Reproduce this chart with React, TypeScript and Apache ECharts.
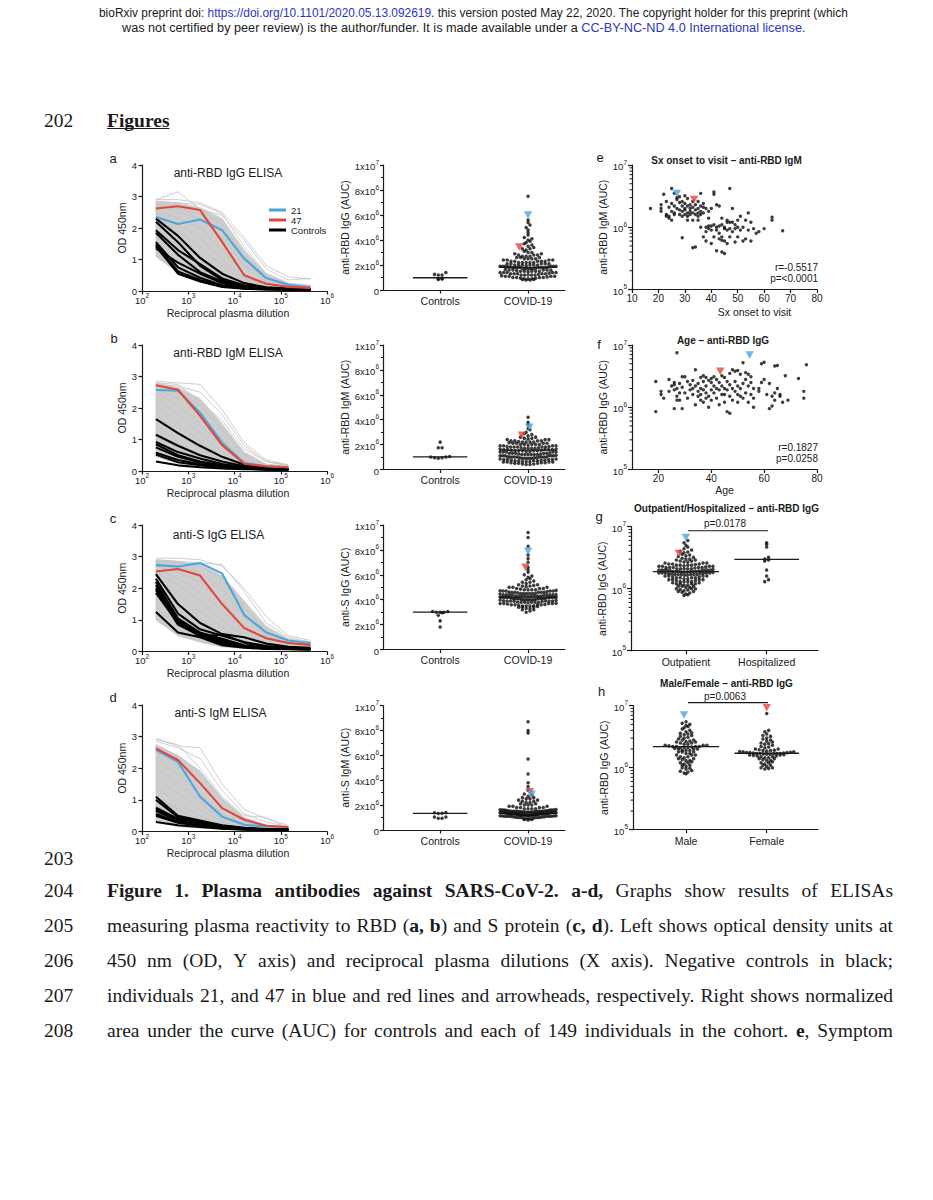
import React, { useEffect, useRef } from 'react';
import * as echarts from 'echarts';

// ================= DATA =================
const DILUTIONS = [200, 600, 1800, 5400, 16200, 48600, 145800, 437400];

// ---- left panels: OD450 per dilution ----
const A_BLUE = [2.35, 2.13, 2.27, 1.93, 1.03, 0.41, 0.2, 0.12];
const A_RED = [2.62, 2.69, 2.57, 1.56, 0.5, 0.23, 0.13, 0.1];
const A_CTRL = [
  [2.3, 1.75, 1.05, 0.55, 0.25, 0.12, 0.08, 0.06],
  [2.2, 1.55, 0.8, 0.35, 0.15, 0.08, 0.06, 0.05],
  [1.93, 1.3, 0.85, 0.4, 0.18, 0.1, 0.07, 0.05],
  [1.85, 1.15, 0.6, 0.3, 0.12, 0.07, 0.05, 0.05],
  [1.55, 0.75, 0.42, 0.18, 0.09, 0.06, 0.05, 0.04],
  [1.48, 0.62, 0.35, 0.15, 0.08, 0.06, 0.05, 0.04],
  [1.42, 0.55, 0.3, 0.13, 0.07, 0.05, 0.04, 0.04],
  [1.35, 0.9, 0.55, 0.25, 0.11, 0.07, 0.05, 0.04],
];
const A_GREY = [
  [2.9, 3.15, 2.6, 2.4, 1.6, 0.7, 0.35, 0.4],
  [2.85, 2.8, 2.75, 2.45, 1.4, 0.55, 0.25, 0.15],
  [2.8, 2.7, 2.6, 2.1, 1.1, 0.45, 0.2, 0.12],
  [2.7, 2.5, 2.3, 1.7, 0.8, 0.3, 0.15, 0.1],
  [2.6, 2.3, 2.0, 1.3, 0.55, 0.2, 0.1, 0.08],
  [2.5, 2.1, 1.7, 1.0, 0.4, 0.15, 0.09, 0.07],
  [2.4, 1.9, 1.4, 0.8, 0.3, 0.12, 0.08, 0.06],
  [2.2, 1.6, 1.1, 0.6, 0.22, 0.1, 0.07, 0.06],
  [2.0, 1.4, 0.9, 0.45, 0.18, 0.09, 0.06, 0.05],
  [1.8, 1.1, 0.7, 0.35, 0.14, 0.08, 0.06, 0.05],
  [1.6, 0.9, 0.5, 0.25, 0.1, 0.07, 0.05, 0.05],
  [1.1, 0.6, 0.35, 0.15, 0.08, 0.06, 0.05, 0.05],
  [2.9, 2.9, 2.8, 2.5, 1.7, 0.8, 0.45, 0.38],
  [2.75, 2.6, 2.45, 1.9, 0.95, 0.35, 0.18, 0.1],
];
const A_HI = [2.85, 2.8, 2.65, 2.3, 1.3, 0.55, 0.25, 0.18];
const A_LO = [1.1, 0.6, 0.33, 0.15, 0.08, 0.06, 0.05, 0.05];

const B_BLUE = [2.57, 2.55, 1.85, 0.9, 0.25, 0.15, 0.12];
const B_RED = [2.72, 2.58, 1.75, 0.82, 0.23, 0.15, 0.12];
const B_CTRL = [
  [1.65, 1.2, 0.8, 0.45, 0.2, 0.1, 0.07],
  [1.15, 0.8, 0.5, 0.3, 0.15, 0.08, 0.06],
  [0.92, 0.6, 0.4, 0.22, 0.12, 0.07, 0.05],
  [0.85, 0.5, 0.3, 0.18, 0.1, 0.06, 0.05],
  [0.75, 0.45, 0.28, 0.15, 0.09, 0.06, 0.05],
  [0.58, 0.35, 0.22, 0.13, 0.08, 0.05, 0.05],
  [0.52, 0.28, 0.18, 0.1, 0.07, 0.05, 0.04],
  [0.3, 0.18, 0.12, 0.08, 0.06, 0.05, 0.04],
];
const B_GREY = [
  [2.85, 2.8, 2.75, 1.95, 0.9, 0.35, 0.2],
  [2.8, 2.75, 2.2, 1.6, 0.7, 0.3, 0.18],
  [2.7, 2.5, 2.1, 1.3, 0.5, 0.2, 0.12],
  [2.6, 2.3, 1.8, 1.0, 0.35, 0.15, 0.1],
  [2.5, 2.1, 1.5, 0.8, 0.28, 0.12, 0.08],
  [2.3, 1.8, 1.2, 0.6, 0.2, 0.1, 0.07],
  [2.1, 1.5, 0.95, 0.45, 0.15, 0.08, 0.06],
  [1.8, 1.2, 0.7, 0.32, 0.12, 0.07, 0.05],
  [1.5, 0.9, 0.5, 0.22, 0.09, 0.06, 0.05],
  [1.2, 0.7, 0.38, 0.16, 0.07, 0.05, 0.04],
  [2.75, 2.7, 2.5, 1.8, 0.8, 0.3, 0.16],
  [0.9, 0.5, 0.28, 0.12, 0.06, 0.05, 0.04],
];
const B_HI = [2.8, 2.65, 2.3, 1.5, 0.6, 0.22, 0.15];
const B_LO = [0.45, 0.25, 0.15, 0.08, 0.05, 0.04, 0.04];

const C_BLUE = [2.73, 2.69, 2.8, 2.47, 1.16, 0.6, 0.35, 0.27];
const C_RED = [2.53, 2.61, 2.4, 1.5, 0.74, 0.42, 0.27, 0.21];
const C_CTRL = [
  [2.45, 1.5, 0.9, 0.55, 0.28, 0.15, 0.1, 0.08],
  [2.3, 1.2, 0.7, 0.5, 0.3, 0.17, 0.12, 0.1],
  [2.2, 1.05, 0.6, 0.4, 0.2, 0.12, 0.1, 0.08],
  [2.1, 0.95, 0.55, 0.35, 0.18, 0.11, 0.09, 0.07],
  [2.0, 1.0, 0.45, 0.55, 0.45, 0.25, 0.15, 0.12],
  [1.85, 0.9, 0.5, 0.3, 0.15, 0.1, 0.08, 0.07],
  [1.25, 0.6, 0.45, 0.2, 0.12, 0.08, 0.07, 0.06],
  [1.95, 0.85, 0.5, 0.25, 0.14, 0.09, 0.08, 0.07],
];
const C_GREY = [
  [2.95, 2.95, 2.9, 2.7, 2.0, 1.1, 0.5, 0.35],
  [2.9, 2.85, 2.8, 2.75, 1.9, 0.9, 0.45, 0.3],
  [2.85, 2.8, 2.7, 2.3, 1.4, 0.65, 0.35, 0.25],
  [2.8, 2.7, 2.5, 2.0, 1.1, 0.5, 0.28, 0.2],
  [2.7, 2.5, 2.2, 1.6, 0.8, 0.38, 0.22, 0.16],
  [2.6, 2.3, 1.9, 1.3, 0.6, 0.28, 0.18, 0.13],
  [2.5, 2.1, 1.6, 1.0, 0.45, 0.22, 0.14, 0.11],
  [2.3, 1.8, 1.3, 0.75, 0.33, 0.17, 0.12, 0.1],
  [2.1, 1.5, 1.0, 0.55, 0.25, 0.14, 0.1, 0.08],
  [1.8, 1.2, 0.75, 0.4, 0.18, 0.11, 0.09, 0.07],
  [1.4, 0.85, 0.5, 0.25, 0.13, 0.09, 0.08, 0.07],
  [1.0, 0.55, 0.32, 0.16, 0.1, 0.08, 0.07, 0.06],
];
const C_HI = [2.9, 2.85, 2.75, 2.4, 1.6, 0.8, 0.4, 0.3];
const C_LO = [1.0, 0.5, 0.3, 0.15, 0.1, 0.08, 0.07, 0.06];

const D_BLUE = [2.58, 2.2, 1.1, 0.47, 0.21, 0.16, 0.14];
const D_RED = [2.63, 2.26, 1.53, 0.74, 0.37, 0.18, 0.14];
const D_CTRL = [
  [1.1, 0.5, 0.35, 0.2, 0.12, 0.08, 0.07],
  [1.0, 0.45, 0.3, 0.18, 0.1, 0.07, 0.06],
  [0.75, 0.4, 0.28, 0.16, 0.09, 0.07, 0.06],
  [0.7, 0.38, 0.25, 0.14, 0.08, 0.06, 0.05],
  [0.65, 0.35, 0.22, 0.13, 0.08, 0.06, 0.05],
  [0.55, 0.3, 0.2, 0.12, 0.07, 0.06, 0.05],
  [0.5, 0.28, 0.18, 0.1, 0.07, 0.05, 0.05],
  [0.3, 0.2, 0.14, 0.09, 0.06, 0.05, 0.04],
];
const D_GREY = [
  [2.95, 2.7, 2.65, 1.5, 0.7, 0.4, 0.2],
  [2.85, 2.65, 2.3, 1.3, 0.55, 0.3, 0.15],
  [2.7, 2.4, 1.9, 1.0, 0.4, 0.2, 0.12],
  [2.5, 2.1, 1.5, 0.75, 0.3, 0.15, 0.1],
  [2.3, 1.8, 1.2, 0.55, 0.22, 0.12, 0.08],
  [2.0, 1.5, 0.9, 0.4, 0.17, 0.1, 0.07],
  [1.7, 1.2, 0.7, 0.3, 0.13, 0.08, 0.06],
  [1.4, 0.9, 0.5, 0.22, 0.1, 0.07, 0.05],
  [1.1, 0.7, 0.38, 0.17, 0.08, 0.06, 0.05],
  [0.8, 0.5, 0.28, 0.13, 0.07, 0.05, 0.04],
  [2.9, 2.75, 2.0, 1.1, 0.5, 0.45, 0.1],
];
const D_HI = [2.75, 2.4, 1.9, 1.05, 0.45, 0.2, 0.12];
const D_LO = [0.3, 0.15, 0.1, 0.07, 0.05, 0.05, 0.04];

// ---- middle panels: AUC (x10^6) ----
const MA_CTRL = [1.4, 1.2, 1.2, 1.25, 0.85, 0.93, 0.9, 0.88];
const MA_COVID = [7.5, 5.6, 5.4, 5.2, 5.0, 4.8, 4.6, 4.4, 4.2, 4.1, 4.0, 3.9, 3.8, 3.7, 3.6, 3.5, 3.4, 3.3, 3.3, 3.2, 3.1, 3.0, 3.0, 2.9, 2.9, 2.8, 2.8, 2.8, 2.7, 2.7, 2.7, 2.6, 2.6, 2.6, 2.5, 2.5, 2.5, 2.5, 2.4, 2.4, 2.4, 2.4, 2.3, 2.3, 2.3, 2.3, 2.3, 2.2, 2.2, 2.2, 2.2, 2.2, 2.1, 2.1, 2.1, 2.1, 2.1, 2.0, 2.0, 2.0, 2.0, 2.0, 2.0, 1.95, 1.9, 1.9, 1.9, 1.9, 1.9, 1.9, 1.85, 1.85, 1.85, 1.8, 1.8, 1.8, 1.8, 1.8, 1.8, 1.8, 1.8, 1.75, 1.7, 1.7, 1.7, 1.7, 1.7, 1.65, 1.6, 1.6, 1.6, 1.6, 1.6, 1.55, 1.5, 1.5, 1.5, 1.5, 1.5, 1.45, 1.4, 1.4, 1.4, 1.4, 1.4, 1.35, 1.3, 1.3, 1.3, 1.3, 1.3, 1.25, 1.2, 1.2, 1.2, 1.2, 1.2, 1.15, 1.1, 1.1, 1.1, 1.1, 1.05, 1.0, 1.0, 1.0, 1.0, 0.95, 0.95, 0.9, 0.9, 0.9, 0.85, 0.85, 0.8, 0.8];
const MB_CTRL = [2.2, 1.75, 1.75, 1.05, 1.0, 1.0, 0.95, 0.95, 0.9];
const MB_COVID = [4.2, 3.8, 3.6, 3.3, 3.2, 3.0, 2.9, 2.8, 2.7, 2.6, 2.6, 2.5, 2.5, 2.4, 2.4, 2.4, 2.3, 2.3, 2.3, 2.2, 2.2, 2.2, 2.2, 2.1, 2.1, 2.1, 2.0, 2.0, 2.0, 2.0, 1.95, 1.9, 1.9, 1.9, 1.85, 1.8, 1.8, 1.8, 1.8, 1.75, 1.7, 1.7, 1.7, 1.65, 1.6, 1.6, 1.6, 1.6, 1.55, 1.5, 1.5, 1.5, 1.5, 1.45, 1.4, 1.4, 1.4, 1.4, 1.35, 1.3, 1.3, 1.3, 1.3, 1.25, 1.2, 1.2, 1.2, 1.2, 1.2, 1.15, 1.1, 1.1, 1.1, 1.1, 1.1, 1.05, 1.0, 1.0, 1.0, 1.0, 1.0, 1.0, 1.0, 1.0, 0.95, 0.95, 0.95, 0.9, 0.9, 0.9, 0.9, 0.85, 0.85, 0.8, 0.8, 0.8, 0.8, 0.75, 0.75, 0.7, 0.7, 0.7, 0.7, 0.65, 0.65, 0.6, 0.6, 0.6, 0.6, 0.55, 0.55, 0.55, 0.5, 0.5, 0.5, 0.45, 0.45, 0.4, 0.4, 1.7, 1.9, 2.0, 1.3, 1.2, 1.5, 1.6, 2.1, 2.3, 1.8, 1.4, 1.1, 0.9, 0.75, 0.65, 1.25, 1.45, 1.55, 1.65, 1.75, 1.85, 2.15, 2.45, 2.25];
const MC_CTRL = [3.05, 3.0, 3.0, 2.95, 3.0, 3.05, 2.75, 2.3, 1.8];
const MC_COVID = [9.4, 9.0, 8.3, 7.6, 7.3, 7.0, 6.6, 6.4, 6.2, 6.0, 5.9, 5.8, 5.7, 5.6, 5.5, 5.4, 5.4, 5.3, 5.2, 5.2, 5.1, 5.1, 5.0, 5.0, 5.0, 4.9, 4.9, 4.9, 4.8, 4.8, 4.8, 4.8, 4.7, 4.7, 4.7, 4.7, 4.6, 4.6, 4.6, 4.6, 4.6, 4.5, 4.5, 4.5, 4.5, 4.5, 4.4, 4.4, 4.4, 4.4, 4.4, 4.4, 4.3, 4.3, 4.3, 4.3, 4.3, 4.3, 4.2, 4.2, 4.2, 4.2, 4.2, 4.2, 4.2, 4.2, 4.1, 4.1, 4.1, 4.1, 4.1, 4.1, 4.0, 4.0, 4.0, 4.0, 4.0, 4.0, 3.9, 3.9, 3.9, 3.9, 3.9, 3.8, 3.8, 3.8, 3.8, 3.8, 3.7, 3.7, 3.7, 3.7, 3.6, 3.6, 3.6, 3.6, 3.5, 3.5, 3.5, 3.4, 3.4, 3.4, 3.3, 3.3, 3.2, 3.2, 3.1, 3.0, 4.25, 4.35, 4.15, 4.05, 3.95, 3.85, 4.45, 4.55, 4.65, 3.75, 3.65, 4.75, 4.85, 5.05, 5.15, 3.55, 3.45, 4.22, 4.12, 4.32, 4.02, 3.92, 3.82, 4.42, 4.52, 3.72, 4.62, 4.72, 3.62, 3.52, 4.28, 4.18, 4.08, 3.98, 3.88, 4.38];
const MD_CTRL = [1.4, 1.35, 1.38, 1.32, 1.05, 1.05, 0.95, 0.95];
const MD_COVID = [8.7, 8.0, 7.8, 5.7, 4.5, 3.8, 3.5, 3.2, 2.9, 2.8, 2.7, 2.6, 2.6, 2.5, 2.5, 2.4, 2.4, 2.3, 2.3, 2.2, 2.2, 2.1, 2.1, 2.0, 2.0, 2.0, 1.9, 1.9, 1.9, 1.8, 1.8, 1.8, 1.8, 1.7, 1.7, 1.7, 1.7, 1.65, 1.6, 1.6, 1.6, 1.6, 1.6, 1.55, 1.5, 1.5, 1.5, 1.5, 1.5, 1.5, 1.45, 1.45, 1.4, 1.4, 1.4, 1.4, 1.4, 1.4, 1.4, 1.4, 1.35, 1.35, 1.35, 1.3, 1.3, 1.3, 1.3, 1.3, 1.3, 1.3, 1.25, 1.25, 1.25, 1.2, 1.2, 1.2, 1.2, 1.2, 1.2, 1.15, 1.15, 1.1, 1.1, 1.1, 1.1, 1.1, 1.05, 1.05, 1.0, 1.0, 1.0, 1.0, 0.95, 0.95, 0.9, 0.9, 0.9, 0.85, 0.85, 0.8, 1.42, 1.38, 1.32, 1.28, 1.48, 1.52, 1.58, 1.62, 1.22, 1.18, 1.12, 1.08, 1.02, 0.98, 1.43, 1.37, 1.33, 1.27, 1.47, 1.53, 1.57, 1.23, 1.17, 1.13, 1.07, 1.45, 1.36, 1.34, 1.26, 1.44, 1.46, 1.54, 1.24, 1.16, 1.41, 1.39, 1.31, 1.29, 1.49, 1.51, 1.21, 1.19, 1.11];
// medians [controls, COVID-19] x10^6
const MID_MEDIANS = [[0.98, 1.81], [1.02, 1.55], [3.0, 4.2], [1.33, 1.39]];
// individual 21 (blue) and 47 (red) AUC x10^6
const MID_BLUE = [6.0, 3.4, 7.9, 2.88];
const MID_RED = [3.45, 2.76, 6.6, 3.07];

// ---- e: Sx onset to visit (days) vs anti-RBD IgM AUC (x10^6) ----
const E_POINTS = [[17,2.0],[21,2.3],[21,2.0],[21,1.8],[22,3.4],[23,1.6],[23,1.5],[23,2.6],[24,1.5],[24,2.1],[24,1.4],[25,4.2],[25,1.8],[25,2.4],[25,1.3],[26,3.5],[26,2.2],[26,1.7],[26,1.6],[27,3.0],[27,2.0],[27,2.8],[28,2.5],[28,1.9],[28,1.6],[28,3.1],[29,0.68],[29,2.2],[29,1.8],[29,2.6],[29,1.5],[30,2.0],[30,1.6],[30,2.4],[30,3.2],[30,1.9],[31,1.7],[31,2.2],[31,2.9],[31,1.5],[32,2.3],[32,1.8],[32,2.0],[32,1.6],[33,2.6],[33,0.47],[33,1.7],[33,2.1],[33,1.3],[34,0.48],[34,2.3],[34,1.9],[34,1.6],[35,2.0],[35,1.5],[35,2.6],[35,1.7],[36,3.5],[36,1.0],[36,1.8],[36,2.2],[36,1.6],[37,2.4],[37,0.7],[37,1.7],[37,2.1],[38,0.6],[38,2.0],[38,1.0],[38,0.85],[39,1.8],[39,1.05],[39,0.95],[40,0.9],[40,2.0],[40,0.55],[41,3.4],[41,3.7],[41,1.1],[41,0.7],[42,2.3],[42,1.0],[42,0.9],[42,0.42],[43,2.2],[43,0.8],[43,1.05],[43,0.65],[44,0.7],[44,1.4],[44,0.4],[44,1.1],[45,0.95],[45,0.6],[45,0.38],[45,1.0],[46,1.2],[46,0.9],[46,0.55],[47,4.2],[47,1.2],[47,0.95],[47,0.7],[48,1.2],[48,0.85],[48,2.0],[49,1.1],[49,0.95],[49,0.58],[50,1.3],[50,1.0],[50,0.7],[51,0.9],[51,1.5],[52,0.6],[52,1.0],[53,0.65],[53,1.3],[54,1.7],[54,0.9],[55,0.6],[55,1.2],[56,0.95],[57,0.8],[58,0.85],[60,0.95],[63,1.45],[63,1.3],[67,0.88],[44,0.62],[46,1.3],[40,1.05],[39,1.4],[35,1.3],[31,1.3]];
const E_BLUE = [27, 3.5];
const E_RED = [33.5, 2.8];
const E_STATS = ['r=-0.5517', 'p=<0.0001'];

// ---- f: Age vs anti-RBD IgG AUC (x10^6) ----
const F_POINTS = [[19,0.85],[19,2.6],[21,1.8],[21,1.6],[22,1.4],[24,2.8],[24,1.8],[25,2.2],[26,2.5],[26,2.3],[26,1.9],[26,0.95],[27,7.5],[27,1.5],[27,1.3],[27,2.0],[28,2.4],[28,1.7],[28,1.3],[29,0.95],[29,3.1],[29,2.1],[30,3.1],[30,1.7],[31,1.4],[32,2.3],[32,1.9],[33,2.7],[33,1.6],[34,4.0],[34,2.2],[34,1.1],[35,2.4],[35,1.8],[35,1.5],[36,3.0],[36,2.0],[36,1.6],[36,1.3],[37,2.6],[37,1.9],[37,1.2],[38,3.0],[38,1.7],[38,1.4],[38,2.2],[39,2.7],[39,1.0],[39,1.5],[40,2.5],[40,1.9],[40,1.3],[41,3.1],[41,2.2],[41,1.7],[42,2.8],[42,1.4],[43,2.5],[43,1.9],[43,1.1],[44,3.2],[44,1.6],[44,2.2],[45,2.0],[45,1.6],[45,1.2],[46,2.6],[46,0.85],[46,1.9],[47,3.5],[47,0.8],[47,1.5],[47,2.3],[48,4.0],[48,2.0],[48,1.3],[49,3.8],[49,2.6],[49,1.8],[50,2.2],[50,1.6],[50,1.2],[51,3.4],[51,2.0],[51,1.5],[52,5.2],[52,2.4],[52,1.4],[53,3.6],[53,1.7],[53,2.8],[54,3.4],[54,2.2],[54,1.2],[55,2.5],[55,1.6],[56,1.4],[56,1.0],[56,2.0],[58,2.0],[59,5.0],[59,2.5],[60,5.3],[60,2.8],[61,1.6],[62,2.4],[62,0.95],[63,1.05],[63,1.5],[64,1.3],[64,4.6],[64,1.7],[65,4.7],[65,2.0],[66,1.6],[66,1.5],[67,1.2],[68,3.2],[69,1.3],[73,2.9],[75,1.8],[75,1.4],[76,4.8],[31,2.6],[33,2.0],[37,3.2],[40,2.9],[42,2.0],[45,3.0],[50,3.9],[55,3.1],[58,1.8]];
const F_BLUE = [54.5, 6.9];
const F_RED = [43.4, 3.8];
const F_STATS = ['r=0.1827', 'p=0.0258'];

// ---- g: Outpatient / Hospitalized anti-RBD IgG AUC (x10^6) ----
const G_OUT = [6.0, 5.5, 5.0, 4.7, 4.4, 4.2, 4.0, 3.9, 3.8, 3.6, 3.5, 3.4, 3.3, 3.2, 3.1, 3.0, 3.0, 2.9, 2.9, 2.8, 2.8, 2.7, 2.7, 2.6, 2.6, 2.6, 2.5, 2.5, 2.5, 2.4, 2.4, 2.4, 2.4, 2.3, 2.3, 2.3, 2.3, 2.2, 2.2, 2.2, 2.2, 2.2, 2.1, 2.1, 2.1, 2.1, 2.1, 2.0, 2.0, 2.0, 2.0, 2.0, 2.0, 1.95, 1.95, 1.9, 1.9, 1.9, 1.9, 1.9, 1.85, 1.85, 1.85, 1.8, 1.8, 1.8, 1.8, 1.8, 1.75, 1.75, 1.7, 1.7, 1.7, 1.7, 1.7, 1.65, 1.65, 1.6, 1.6, 1.6, 1.6, 1.55, 1.55, 1.5, 1.5, 1.5, 1.5, 1.45, 1.45, 1.4, 1.4, 1.4, 1.4, 1.35, 1.35, 1.3, 1.3, 1.3, 1.3, 1.25, 1.25, 1.2, 1.2, 1.2, 1.2, 1.15, 1.15, 1.1, 1.1, 1.1, 1.05, 1.05, 1.0, 1.0, 1.0, 0.97, 0.95, 0.93, 0.9, 0.9, 0.88, 0.85, 0.82, 0.8, 0.78, 2.15, 2.05, 1.98, 1.92, 1.88, 1.82, 1.78, 1.72, 1.68, 2.25, 2.35, 2.45];
const G_HOSP = [5.5, 5.2, 4.7, 3.2, 3.0, 2.9, 2.8, 2.0, 1.6, 1.4, 1.3];
const G_MEDIANS = [1.88, 2.97];
const G_BLUE = 6.7;
const G_RED = 3.7;
const G_P = 'p=0.0178';

// ---- h: Male / Female anti-RBD IgG AUC (x10^6) ----
const H_MALE = [5.5, 5.2, 5.0, 4.8, 4.6, 4.4, 4.2, 4.0, 3.8, 3.6, 3.5, 3.4, 3.3, 3.2, 3.1, 3.0, 2.9, 2.8, 2.8, 2.7, 2.6, 2.6, 2.5, 2.5, 2.4, 2.4, 2.3, 2.3, 2.3, 2.2, 2.2, 2.2, 2.2, 2.1, 2.1, 2.1, 2.0, 2.0, 2.0, 1.9, 1.9, 1.9, 1.8, 1.8, 1.8, 1.7, 1.7, 1.6, 1.6, 1.6, 1.5, 1.5, 1.45, 1.4, 1.4, 1.35, 1.3, 1.3, 1.25, 1.2, 1.2, 1.15, 1.1, 1.1, 1.05, 1.0, 0.98, 0.95, 0.9, 0.88, 0.85, 0.8, 0.82, 2.15, 2.25, 2.05, 3.65, 2.65];
const H_FEMALE = [7.5, 4.0, 3.8, 3.5, 3.2, 3.0, 2.8, 2.7, 2.6, 2.5, 2.4, 2.3, 2.2, 2.1, 2.0, 2.0, 1.95, 1.9, 1.9, 1.85, 1.8, 1.8, 1.75, 1.75, 1.72, 1.7, 1.7, 1.7, 1.68, 1.65, 1.65, 1.62, 1.6, 1.6, 1.55, 1.55, 1.5, 1.5, 1.45, 1.45, 1.4, 1.4, 1.35, 1.3, 1.3, 1.25, 1.2, 1.2, 1.15, 1.1, 1.1, 1.05, 1.0, 1.0, 0.97, 0.95, 1.78, 1.73, 1.69, 1.66, 1.76, 1.82, 1.58, 2.9, 3.3, 2.45, 2.15, 1.92];
const H_MEDIANS = [2.19, 1.71];
const H_BLUE = 7.1;
const H_RED = 9.3;
const H_P = 'p=0.0063';

const LOG_MINOR = [2e5, 3e5, 4e5, 5e5, 6e5, 7e5, 8e5, 9e5, 2e6, 3e6, 4e6, 5e6, 6e6, 7e6, 8e6, 9e6];

// ---- page text ----
const HEADER_1 = [['bioRxiv preprint doi: ', 'k'], ['https://doi.org/10.1101/2020.05.13.092619', 'l'], ['. this version posted May 22, 2020. The copyright holder for this preprint (which', 'k']];
const HEADER_2 = [['was not certified by peer review) is the author/funder. It is made available under a ', 'k'], ['CC-BY-NC-ND 4.0 International license', 'l'], ['.', 'k']];
const CAPTION = [
  '**Figure 1. Plasma antibodies against SARS-CoV-2. a-d,** Graphs show results of ELISAs',
  'measuring plasma reactivity to RBD (**a, b**) and S protein (**c, d**). Left shows optical density units at',
  '450 nm (OD, Y axis) and reciprocal plasma dilutions (X axis). Negative controls in black;',
  'individuals 21, and 47 in blue and red lines and arrowheads, respectively. Right shows normalized',
  'area under the curve (AUC) for controls and each of 149 individuals in the cohort. **e**, Symptom',
];
const CAPTION_NUMBERS = ['204', '205', '206', '207', '208'];

// ================= STYLE / LAYOUT =================
const FONT = '"Liberation Sans", Arial, Helvetica, sans-serif';
const SERIF = '"Liberation Serif", "Times New Roman", serif';
const INK = '#1a1a1a';
const BLUE = '#4ba6de';
const RED = '#e2463b';
const LINK = '#2a35c4';
const GREY_FILL = '#cdcdcd';
const GREY_LINE = '#c2c2c2';

const AX_LINE = { show: true, onZero: false, lineStyle: { color: INK, width: 1.2 } };
const AX_TICK = { show: true, length: 3.5, lineStyle: { color: INK, width: 1.2 } };
const NAME_STYLE = { color: INK, fontSize: 10, fontFamily: FONT };
const RICH = {
  b: { fontSize: 9.5, fontFamily: FONT, color: INK, lineHeight: 13, verticalAlign: 'bottom' },
  s: { fontSize: 6.5, fontFamily: FONT, color: INK, lineHeight: 6.5, verticalAlign: 'top' },
};
const sup = (base: string, e: number | string) => `{b|${base}}{s|${e}}`;
const logLabel = (v: number) => sup('10', Math.round(Math.log10(v)));
const aucLabel = (v: number) => (v < 1 ? '{b|0}' : v >= 9.99e6 ? sup('1x10', 7) : sup(`${Math.round(v / 1e6)}x10`, 6));

function swarm(vals: number[], center: number, toPx: (v: number) => number, pxPerUnit: number, maxHalf: number) {
  const BIN = 3.2;
  const GAP = 3.8;
  const groups = new Map<number, number[]>();
  [...vals].sort((a, b) => a - b).forEach((v) => {
    const k = Math.round(toPx(v) / BIN);
    if (!groups.has(k)) groups.set(k, []);
    groups.get(k)!.push(v);
  });
  const out: number[][] = [];
  groups.forEach((list) => {
    const n = list.length;
    const sp = n > 1 ? Math.min(GAP, (2 * maxHalf) / (n - 1)) : 0;
    const shift = n % 2 === 0 ? -0.5 : 0;
    list.forEach((v, i) => {
      const slot = i === 0 ? 0 : i % 2 === 1 ? (i + 1) / 2 : -i / 2;
      out.push([center + ((slot + shift) * sp) / pxPerUnit, v]);
    });
  });
  return out;
}

let measureCtx: CanvasRenderingContext2D | null = null;
function textWidth(t: string, font: string) {
  if (!measureCtx) measureCtx = document.createElement('canvas').getContext('2d');
  if (!measureCtx) return t.length * 7;
  measureCtx.font = font;
  return measureCtx.measureText(t).width;
}

function buildOption() {
  const grid: any[] = [];
  const xAxis: any[] = [];
  const yAxis: any[] = [];
  const series: any[] = [];
  const graphics: any[] = [];

  const lineS = (idx: number, data: number[][], color: string, width: number, name: string, z = 2) => ({
    type: 'line', name, xAxisIndex: idx, yAxisIndex: idx, data, showSymbol: false, symbol: 'none', silent: true,
    lineStyle: { color, width }, itemStyle: { color }, z,
  });
  const segS = (idx: number, x0: number, x1: number, y: number, w = 1.3) => ({
    type: 'line', xAxisIndex: idx, yAxisIndex: idx, data: [[x0, y], [x1, y]], showSymbol: false, symbol: 'none', silent: true,
    clip: false, lineStyle: { color: INK, width: w }, z: 4,
  });
  const dotS = (idx: number, data: number[][], size = 3.5) => ({
    type: 'scatter', xAxisIndex: idx, yAxisIndex: idx, data, symbol: 'circle', symbolSize: size, silent: true,
    itemStyle: { color: '#0d0d0d' }, z: 3,
  });
  const triS = (idx: number, pt: number[], color: string) => ({
    type: 'scatter', xAxisIndex: idx, yAxisIndex: idx, data: [pt], symbol: 'triangle', symbolRotate: 180,
    symbolSize: [8.5, 7.5], silent: true, clip: false, itemStyle: { color }, z: 6,
  });
  const minorS = (idx: number, xmin: number) => ({
    type: 'custom', xAxisIndex: idx, yAxisIndex: idx, silent: true, clip: false, z: 5,
    data: LOG_MINOR.map((v) => [xmin, v]),
    renderItem: (params: any, api: any) => {
      const p = api.coord([api.value(0), api.value(1)]);
      return { type: 'line', shape: { x1: p[0] - 2.5, y1: p[1], x2: p[0], y2: p[1] }, style: { stroke: INK, lineWidth: 1 } };
    },
  });

  // ---------- left ELISA panels ----------
  const LEFT = [
    { top: 165, h: 126, blue: A_BLUE, red: A_RED, ctrl: A_CTRL, grey: A_GREY, hi: A_HI, lo: A_LO },
    { top: 345, h: 126, blue: B_BLUE, red: B_RED, ctrl: B_CTRL, grey: B_GREY, hi: B_HI, lo: B_LO },
    { top: 525, h: 126.5, blue: C_BLUE, red: C_RED, ctrl: C_CTRL, grey: C_GREY, hi: C_HI, lo: C_LO },
    { top: 705, h: 126.5, blue: D_BLUE, red: D_RED, ctrl: D_CTRL, grey: D_GREY, hi: D_HI, lo: D_LO },
  ];
  LEFT.forEach((p, i) => {
    grid.push({ left: 142, top: p.top, width: 185, height: p.h, containLabel: false, outerBoundsMode: 'none' });
    xAxis.push({
      gridIndex: i, type: 'log', logBase: 10, min: 100, max: 1e6, splitNumber: 4,
      name: 'Reciprocal plasma dilution', nameLocation: 'middle', nameGap: 16,
      nameTextStyle: { ...NAME_STYLE, fontSize: 10.5, padding: [0, 13, 0, 0] },
      axisLine: AX_LINE, axisTick: AX_TICK, splitLine: { show: false }, minorTick: { show: false },
      axisLabel: { formatter: logLabel, rich: RICH, margin: 1 },
    });
    yAxis.push({
      gridIndex: i, type: 'value', min: 0, max: 4, interval: 1,
      name: 'OD 450nm', nameLocation: 'middle', nameGap: 15, nameTextStyle: { ...NAME_STYLE, fontSize: 10.5 },
      axisLine: AX_LINE, axisTick: AX_TICK, splitLine: { show: false },
      axisLabel: { color: INK, fontSize: 9.5, fontFamily: FONT, margin: 5 },
    });
    const xs = DILUTIONS.slice(0, p.blue.length);
    const pts = (vals: number[]) => vals.map((v, k) => [xs[k], v]);
    const hi = p.hi;
    const lo = p.lo;
    series.push({
      type: 'custom', xAxisIndex: i, yAxisIndex: i, silent: true, clip: false, z: 1,
      data: [[xs[0], hi[0]]],
      renderItem: (params: any, api: any) => {
        const up = hi.map((v, k) => api.coord([xs[k], v]));
        const dn = lo.map((v, k) => api.coord([xs[k], v])).reverse();
        return { type: 'polygon', shape: { points: up.concat(dn) }, style: { fill: GREY_FILL, stroke: GREY_FILL, lineWidth: 0.8 } };
      },
    });
    p.grey.forEach((g) => series.push(lineS(i, pts(g), GREY_LINE, 0.8, 'grey')));
    p.ctrl.forEach((c) => series.push(lineS(i, pts(c), '#000', 2.1, 'Controls', 3)));
    series.push(lineS(i, pts(p.blue), BLUE, 2.1, '21', 4));
    series.push(lineS(i, pts(p.red), RED, 2.1, '47', 5));
  });

  // ---------- middle AUC panels ----------
  const MID = [
    { top: 165, h: 125, name: 'anti-RBD IgG (AUC)', ctrl: MA_CTRL, covid: MA_COVID, bdx: 0, rdx: -0.1 },
    { top: 345, h: 124.5, name: 'anti-RBD IgM (AUC)', ctrl: MB_CTRL, covid: MB_COVID, bdx: 0.015, rdx: -0.07 },
    { top: 525, h: 124.5, name: 'anti-S IgG (AUC)', ctrl: MC_CTRL, covid: MC_COVID, bdx: 0, rdx: -0.03 },
    { top: 705.5, h: 124.5, name: 'anti-S IgM (AUC)', ctrl: MD_CTRL, covid: MD_COVID, bdx: 0.04, rdx: 0.02 },
  ];
  MID.forEach((p, j) => {
    const gi = 4 + j;
    grid.push({ left: 383, top: p.top, width: 182, height: p.h, containLabel: false, outerBoundsMode: 'none' });
    xAxis.push({
      gridIndex: gi, type: 'value', min: -0.65, max: 1.42,
      axisLine: AX_LINE, axisTick: { ...AX_TICK, customValues: [0, 1] }, splitLine: { show: false },
      axisLabel: { customValues: [0, 1], formatter: (v: number) => (Math.round(v) === 0 ? 'Controls' : 'COVID-19'), color: INK, fontSize: 10.5, fontFamily: FONT, margin: 5 },
    });
    yAxis.push({
      gridIndex: gi, type: 'value', min: 0, max: 1e7, interval: 2e6,
      name: p.name, nameLocation: 'middle', nameGap: 33, nameTextStyle: { ...NAME_STYLE, fontSize: 10.5 },
      axisLine: AX_LINE, axisTick: { ...AX_TICK, length: 3 }, splitLine: { show: false },
      minorTick: { show: true, splitNumber: 2, length: 2, lineStyle: { color: INK, width: 1 } },
      axisLabel: { formatter: aucLabel, rich: RICH, margin: 4 },
    });
    const toPx = (v: number) => v * (p.h / 10);
    const pts = swarm(p.ctrl, 0, toPx, 88, 28).concat(swarm(p.covid, 1, toPx, 88, 28));
    series.push(dotS(gi, pts.map(([x, y]) => [x, y * 1e6])));
    series.push(segS(gi, -0.31, 0.31, MID_MEDIANS[j][0] * 1e6));
    series.push(segS(gi, 1 - 0.33, 1 + 0.33, MID_MEDIANS[j][1] * 1e6));
    series.push(triS(gi, [1 + p.rdx, MID_RED[j] * 1e6], RED));
    series.push(triS(gi, [1 + p.bdx, MID_BLUE[j] * 1e6], BLUE));
  });

  // ---------- right panels ----------
  const logY = (gi: number, name: string) => ({
    gridIndex: gi, type: 'log', logBase: 10, min: 1e5, max: 1e7, splitNumber: 2,
    name, nameLocation: 'middle', nameGap: 20, nameTextStyle: { ...NAME_STYLE, fontSize: 10.5 },
    axisLine: AX_LINE, axisTick: { ...AX_TICK, length: 4 }, splitLine: { show: false }, minorTick: { show: false },
    axisLabel: { formatter: logLabel, rich: RICH, margin: 5 },
  });
  // e
  grid.push({ left: 632, top: 165, width: 185, height: 124.5, containLabel: false, outerBoundsMode: 'none' });
  xAxis.push({
    gridIndex: 8, type: 'value', min: 10, max: 80, interval: 10,
    name: 'Sx onset to visit', nameLocation: 'middle', nameGap: 17, nameTextStyle: { ...NAME_STYLE, fontSize: 10.5, padding: [0, 0, 0, 60] },
    axisLine: AX_LINE, axisTick: AX_TICK, splitLine: { show: false },
    axisLabel: { color: INK, fontSize: 10, fontFamily: FONT, margin: 4 },
  });
  yAxis.push(logY(8, 'anti-RBD IgM (AUC)'));
  series.push(dotS(8, E_POINTS.map(([x, y]) => [x, y * 1e6]), 3.4));
  series.push(minorS(8, 10));
  series.push(triS(8, [E_BLUE[0], E_BLUE[1] * 1e6], BLUE));
  series.push(triS(8, [E_RED[0], E_RED[1] * 1e6], RED));
  // f
  grid.push({ left: 632, top: 345, width: 185, height: 124.5, containLabel: false, outerBoundsMode: 'none' });
  xAxis.push({
    gridIndex: 9, type: 'value', min: 10, max: 80,
    name: 'Age', nameLocation: 'middle', nameGap: 15, nameTextStyle: { ...NAME_STYLE, fontSize: 10.5 },
    axisLine: AX_LINE, axisTick: { ...AX_TICK, customValues: [20, 40, 60, 80] }, splitLine: { show: false },
    axisLabel: { customValues: [20, 40, 60, 80], color: INK, fontSize: 10, fontFamily: FONT, margin: 4 },
  });
  yAxis.push(logY(9, 'anti-RBD IgG (AUC)'));
  series.push(dotS(9, F_POINTS.map(([x, y]) => [x, y * 1e6]), 3.4));
  series.push(minorS(9, 10));
  series.push(triS(9, [F_BLUE[0], F_BLUE[1] * 1e6], BLUE));
  series.push(triS(9, [F_RED[0], F_RED[1] * 1e6], RED));
  // g, h
  const CAT = [
    { gi: 10, left: 631, top: 526.7, width: 187, min: -0.68, max: 1.636, labels: ['Outpatient', 'Hospitalized'], a: G_OUT, b: G_HOSP, med: G_MEDIANS, blue: [0, G_BLUE], red: [-0.087, G_RED], bracket: 8.6e6 },
    { gi: 11, left: 633, top: 705.7, width: 185, min: -0.657, max: 1.635, labels: ['Male', 'Female'], a: H_MALE, b: H_FEMALE, med: H_MEDIANS, blue: [-0.025, H_BLUE], red: [1, H_RED], bracket: 1.12e7 },
  ];
  CAT.forEach((p) => {
    grid.push({ left: p.left, top: p.top, width: p.width, height: 124, containLabel: false, outerBoundsMode: 'none' });
    xAxis.push({
      gridIndex: p.gi, type: 'value', min: p.min, max: p.max,
      axisLine: AX_LINE, axisTick: { ...AX_TICK, customValues: [0, 1] }, splitLine: { show: false },
      axisLabel: { customValues: [0, 1], formatter: (v: number) => p.labels[Math.round(v)], color: INK, fontSize: 10.5, fontFamily: FONT, margin: 6 },
    });
    yAxis.push(logY(p.gi, 'anti-RBD IgG (AUC)'));
    const toPx = (v: number) => ((Math.log10(v * 1e6) - 5) / 2) * 124;
    const ppu = p.width / (p.max - p.min);
    const pts = swarm(p.a, 0, toPx, ppu, 27).concat(swarm(p.b, 1, toPx, ppu, 27));
    series.push(dotS(p.gi, pts.map(([x, y]) => [x, y * 1e6])));
    series.push(segS(p.gi, -0.41, 0.41, p.med[0] * 1e6));
    series.push(segS(p.gi, 1 - 0.4, 1 + 0.4, p.med[1] * 1e6));
    series.push(segS(p.gi, 0.025, 1.016, p.bracket, 1.2));
    series.push(minorS(p.gi, p.min));
    series.push(triS(p.gi, [p.blue[0], p.blue[1] * 1e6], BLUE));
    series.push(triS(p.gi, [p.red[0], p.red[1] * 1e6], RED));
  });

  // ---------- texts ----------
  const txt = (x: number, y: number, text: string, font: string, align = 'left', fill = INK) => {
    graphics.push({
      type: 'text', x, y, silent: true, z: 10,
      style: { text, font, fill, align, verticalAlign: 'middle', textAlign: align, textVerticalAlign: 'middle' },
    });
  };
  const sans = (s: number, bold = false) => `${bold ? 'bold ' : ''}${s}px ${FONT}`;
  const serif = (s: number, bold = false) => `${bold ? 'bold ' : ''}${s}px ${SERIF}`;

  // header (fit to original widths)
  const header = (segs: string[][], x0: number, x1: number, y: number) => {
    const base = 12;
    const w = segs.reduce((acc, s) => acc + textWidth(s[0], sans(base)), 0);
    const size = (base * (x1 - x0)) / w;
    let x = x0;
    segs.forEach((s) => {
      txt(x, y, s[0], sans(size), 'left', s[1] === 'l' ? LINK : INK);
      x += textWidth(s[0], sans(size));
    });
  };
  header(HEADER_1, 99, 849, 12.5);
  header(HEADER_2, 122, 806, 27.5);

  // panel letters
  const LETTERS: [string, number, number][] = [['a', 113, 158], ['b', 114, 338.5], ['c', 113, 518], ['d', 113, 697.5], ['e', 600, 157.5], ['f', 599, 344.5], ['g', 599, 516], ['h', 601.5, 691.5]];
  LETTERS.forEach(([t, x, y]) => txt(x, y, t, sans(13), 'center'));

  // left titles
  txt(228, 173, 'anti-RBD IgG ELISA', sans(12), 'center');
  txt(228, 353, 'anti-RBD IgM ELISA', sans(12), 'center');
  txt(218.5, 535, 'anti-S IgG ELISA', sans(12), 'center');
  txt(220.5, 713, 'anti-S IgM ELISA', sans(12), 'center');
  // right titles
  txt(726.5, 160, 'Sx onset to visit – anti-RBD IgM', sans(10, true), 'center');
  txt(723, 340, 'Age – anti-RBD IgG', sans(10, true), 'center');
  txt(726.5, 508, 'Outpatient/Hospitalized – anti-RBD IgG', sans(10, true), 'center');
  txt(726.5, 683, 'Male/Female – anti-RBD IgG', sans(10, true), 'center');
  // stats
  txt(818, 267, E_STATS[0], sans(10), 'right');
  txt(818, 278, E_STATS[1], sans(10), 'right');
  txt(818, 447, F_STATS[0], sans(10), 'right');
  txt(818, 458, F_STATS[1], sans(10), 'right');
  txt(725, 523, G_P, sans(10), 'center');
  txt(725, 696.5, H_P, sans(10), 'center');

  // caption (justified)
  const parse = (s: string) => {
    const words: { t: string; b: boolean }[][] = [];
    let cur: { t: string; b: boolean }[] = [];
    s.split('**').forEach((part, i) => {
      const bold = i % 2 === 1;
      let buf = '';
      for (const ch of part) {
        if (ch === ' ') {
          if (buf) cur.push({ t: buf, b: bold });
          buf = '';
          if (cur.length) words.push(cur);
          cur = [];
        } else buf += ch;
      }
      if (buf) cur.push({ t: buf, b: bold });
    });
    if (cur.length) words.push(cur);
    return words;
  };
  const X0 = 107;
  const X1 = 893;
  const base = 17;
  const parsed = CAPTION.map(parse);
  const natural = (words: any[], s: number) => {
    const ww = words.reduce((acc: number, w: any[]) => acc + w.reduce((a2: number, sg: any) => a2 + textWidth(sg.t, serif(s, sg.b)), 0), 0);
    return ww + textWidth(' ', serif(s)) * (words.length - 1);
  };
  let ratio = Infinity;
  parsed.forEach((words) => {
    ratio = Math.min(ratio, (X1 - X0) / natural(words, base));
  });
  const size = Math.min(19.5, base * ratio * 0.985);

  txt(44, 120, '202', serif(size));
  txt(107, 120, 'Figures', serif(size, true));
  const fw = textWidth('Figures', serif(size, true));
  graphics.push({ type: 'line', silent: true, shape: { x1: 107, y1: 128.5, x2: 107 + fw, y2: 128.5 }, style: { stroke: INK, lineWidth: 1.1 } });
  txt(44, 858, '203', serif(size));

  parsed.forEach((words, li) => {
    const y = 890 + li * 35;
    txt(44, y, CAPTION_NUMBERS[li], serif(size));
    const widths = words.map((w) => w.reduce((a2, sg) => a2 + textWidth(sg.t, serif(size, sg.b)), 0));
    const total = widths.reduce((a, b) => a + b, 0);
    const gap = (X1 - X0 - total) / (words.length - 1);
    let x = X0;
    words.forEach((w, wi) => {
      let xx = x;
      w.forEach((sg) => {
        txt(xx, y, sg.t, serif(size, sg.b));
        xx += textWidth(sg.t, serif(size, sg.b));
      });
      x += widths[wi] + gap;
    });
  });

  return {
    animation: false,
    backgroundColor: '#ffffff',
    textStyle: { fontFamily: FONT },
    grid, xAxis, yAxis, series,
    legend: {
      show: true, data: ['21', '47', 'Controls'], orient: 'vertical', left: 269, top: 205,
      itemWidth: 17, itemHeight: 3, itemGap: 0, icon: 'rect', selectedMode: false, padding: 0,
      textStyle: { fontSize: 9.5, fontFamily: FONT, color: INK, lineHeight: 9.2 },
    },
    graphic: { elements: graphics },
  };
}

export default function App() {
  const ref = useRef<HTMLDivElement>(null);
  useEffect(() => {
    if (!ref.current) return;
    const chart = echarts.init(ref.current, null, { renderer: 'svg' });
    chart.setOption(buildOption() as any);
    return () => chart.dispose();
  }, []);
  return <div ref={ref} style={{ position: 'absolute', left: 0, top: 0, width: 933, height: 1200, background: '#fff' }} />;
}
